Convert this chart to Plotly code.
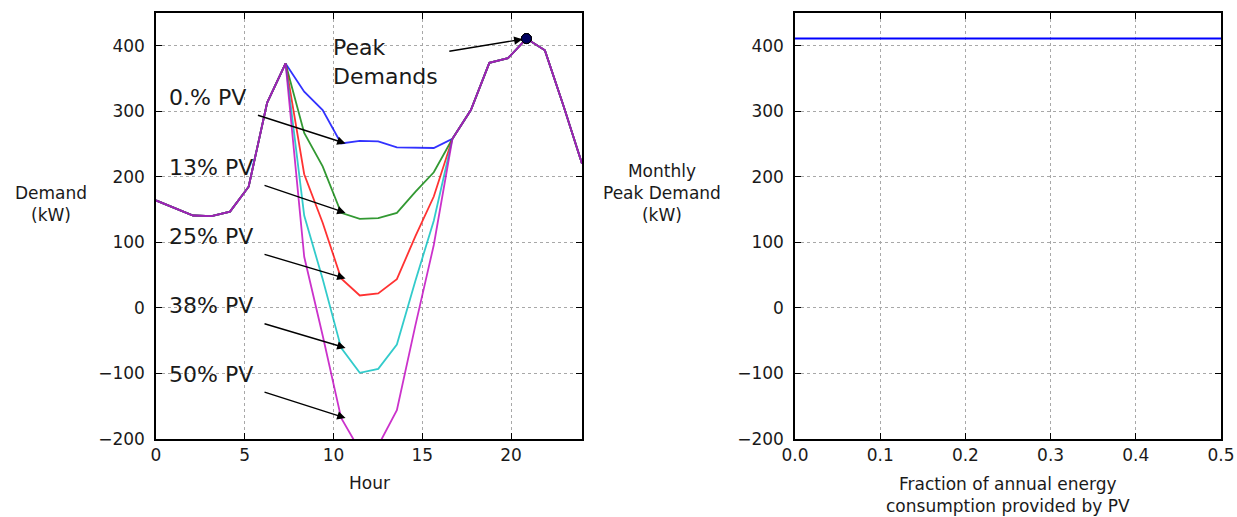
import plotly.graph_objects as go

# Hour of day for each of the 24 samples (evenly spread over 0..24 h)
hours = [0.00, 1.04, 2.09, 3.13, 4.17, 5.22, 6.26, 7.30, 8.35, 9.39, 10.43, 11.48,
         12.52, 13.57, 14.61, 15.65, 16.70, 17.74, 18.78, 19.83, 20.87, 21.91, 22.96, 24.00]

# Net demand (kW) for each PV penetration level
demand_pv0 = [164, 153, 141, 140, 147, 185, 313, 373, 330, 302, 251, 255,
              254, 245, 245, 244, 258, 302, 374, 381, 411, 393, 308, 220]
demand_pv13 = [164, 153, 141, 140, 147, 185, 313, 373, 267, 216, 145, 136,
               137, 145, 177, 207, 258, 302, 374, 381, 411, 393, 308, 220]
demand_pv25 = [164, 153, 141, 140, 147, 185, 313, 373, 204, 130, 45, 19,
               22, 44, 109, 170, 258, 302, 374, 381, 411, 393, 308, 220]
demand_pv38 = [164, 153, 141, 140, 147, 185, 313, 373, 141, 44, -61, -99,
               -93, -56, 41, 133, 258, 302, 374, 381, 411, 393, 308, 220]
demand_pv50 = [164, 153, 141, 140, 147, 185, 313, 373, 78, -42, -168, -217,
               -210, -156, -27, 96, 258, 302, 374, 381, 411, 393, 308, 220]

series = [demand_pv0, demand_pv13, demand_pv25, demand_pv38, demand_pv50]
series_labels = ["0.% PV", "13% PV", "25% PV", "38% PV", "50% PV"]
series_colors = ["#0000ff", "#008000", "#ff0000", "#00bfbf", "#bf00bf"]

# Monthly peak demand versus PV fraction
pv_fraction = [0.0, 0.125, 0.25, 0.375, 0.5]
monthly_peak = [411, 411, 411, 411, 411]

left_ticks = [0, 5, 10, 15, 20]
right_ticks = [0.0, 0.1, 0.2, 0.3, 0.4, 0.5]
y_ticks = [-200, -100, 0, 100, 200, 300, 400]

W, H = 1237, 517
FONT = "DejaVu Sans"
TXT = "#1a1a1a"

fig = go.Figure()

for vals, name, col in zip(series, series_labels, series_colors):
    fig.add_trace(go.Scatter(x=hours, y=vals, mode="lines", name=name,
                             line=dict(color=col, width=1.8), opacity=0.8,
                             xaxis="x", yaxis="y", showlegend=False))

# Peak markers
for vals, col in zip(series, series_colors):
    k = max(range(len(vals)), key=lambda i: vals[i])
    fig.add_trace(go.Scatter(x=[hours[k]], y=[vals[k]], mode="markers",
                             marker=dict(size=10, color="#000060", opacity=0.7,
                                         line=dict(color="black", width=1)),
                             xaxis="x", yaxis="y", showlegend=False))

fig.add_trace(go.Scatter(x=pv_fraction, y=monthly_peak, mode="lines",
                         line=dict(color="#0000ff", width=2),
                         xaxis="x2", yaxis="y2", showlegend=False))

ydom = [1 - 439 / H, 1 - 13 / H]
axis_common = dict(showline=True, linecolor="black", linewidth=1.5, mirror="allticks",
                   ticks="inside", ticklen=6, tickwidth=1, tickcolor="black",
                   showgrid=True, gridcolor="#a8a8a8", gridwidth=1, griddash="3px,3px",
                   zeroline=False, automargin=False,
                   tickfont=dict(family=FONT, size=17, color=TXT))

fig.update_layout(
    width=W, height=H,
    margin=dict(l=0, r=0, t=0, b=0, autoexpand=False),
    paper_bgcolor="white", plot_bgcolor="white",
    xaxis=dict(domain=[156 / W, 582 / W], range=[0, 24], tickvals=left_ticks,
               ticklabelstandoff=0, anchor="y", **axis_common),
    yaxis=dict(domain=ydom, range=[-200, 450], tickvals=y_ticks,
               ticklabelstandoff=6, anchor="x", **axis_common),
    xaxis2=dict(domain=[795 / W, 1221 / W], range=[0, 0.5], tickvals=right_ticks,
                tickformat=".1f", ticklabelstandoff=0, anchor="y2", **axis_common),
    yaxis2=dict(domain=ydom, range=[-200, 450], tickvals=y_ticks,
                ticklabelstandoff=6, anchor="x2", **axis_common),
)

annotations = []

# Labels and arrows for each PV level
label_y = [320.6, 215.0, 109.3, 3.7, -102.0]
tail_x = [5.66, 6.03, 6.03, 6.03, 6.03]
tail_y = [294.7, 187.8, 82.4, -23.4, -127.8]
target_idx = 10
for vals, name, ly, tx, ty in zip(series, series_labels, label_y, tail_x, tail_y):
    annotations.append(dict(x=0.6, y=ly, xref="x", yref="y", text=name, showarrow=False,
                            xanchor="left", yanchor="middle",
                            font=dict(family=FONT, size=22, color=TXT)))
    annotations.append(dict(x=hours[target_idx] + 0.25, y=vals[target_idx], xref="x", yref="y",
                            ax=tx, ay=ty, axref="x", ayref="y", text="",
                            showarrow=True, arrowhead=2, arrowsize=1.2, arrowwidth=1.4,
                            arrowcolor="black"))

peak_k = max(range(len(demand_pv0)), key=lambda i: demand_pv0[i])
annotations.append(dict(x=9.88, y=375.4, xref="x", yref="y", text="Peak<br>Demands",
                        showarrow=False, xanchor="left", yanchor="middle", align="left",
                        font=dict(family=FONT, size=22, color=TXT)))
annotations.append(dict(x=hours[peak_k], y=demand_pv0[peak_k], xref="x", yref="y",
                        ax=16.44, ay=391.3, axref="x", ayref="y", text="",
                        showarrow=True, arrowhead=2, arrowsize=1.2, arrowwidth=1.4,
                        arrowcolor="black", standoff=4))

# Axis titles
title_font = dict(family=FONT, size=17, color=TXT)
annotations.append(dict(x=51 / W, y=1 - 204 / H, xref="paper", yref="paper",
                        text="Demand<br>(kW)", showarrow=False, xanchor="center",
                        yanchor="middle", font=title_font))
annotations.append(dict(x=662 / W, y=1 - 193 / H, xref="paper", yref="paper",
                        text="Monthly<br>Peak Demand<br>(kW)", showarrow=False,
                        xanchor="center", yanchor="middle", font=title_font))
annotations.append(dict(x=369 / W, y=1 - 483 / H, xref="paper", yref="paper",
                        text="Hour", showarrow=False, xanchor="center",
                        yanchor="middle", font=title_font))
annotations.append(dict(x=1008 / W, y=1 - 495 / H, xref="paper", yref="paper",
                        text="Fraction of annual energy<br>consumption provided by PV",
                        showarrow=False, xanchor="center", yanchor="middle",
                        font=title_font))

fig.update_layout(annotations=annotations)

fig.write_html("out.html")
